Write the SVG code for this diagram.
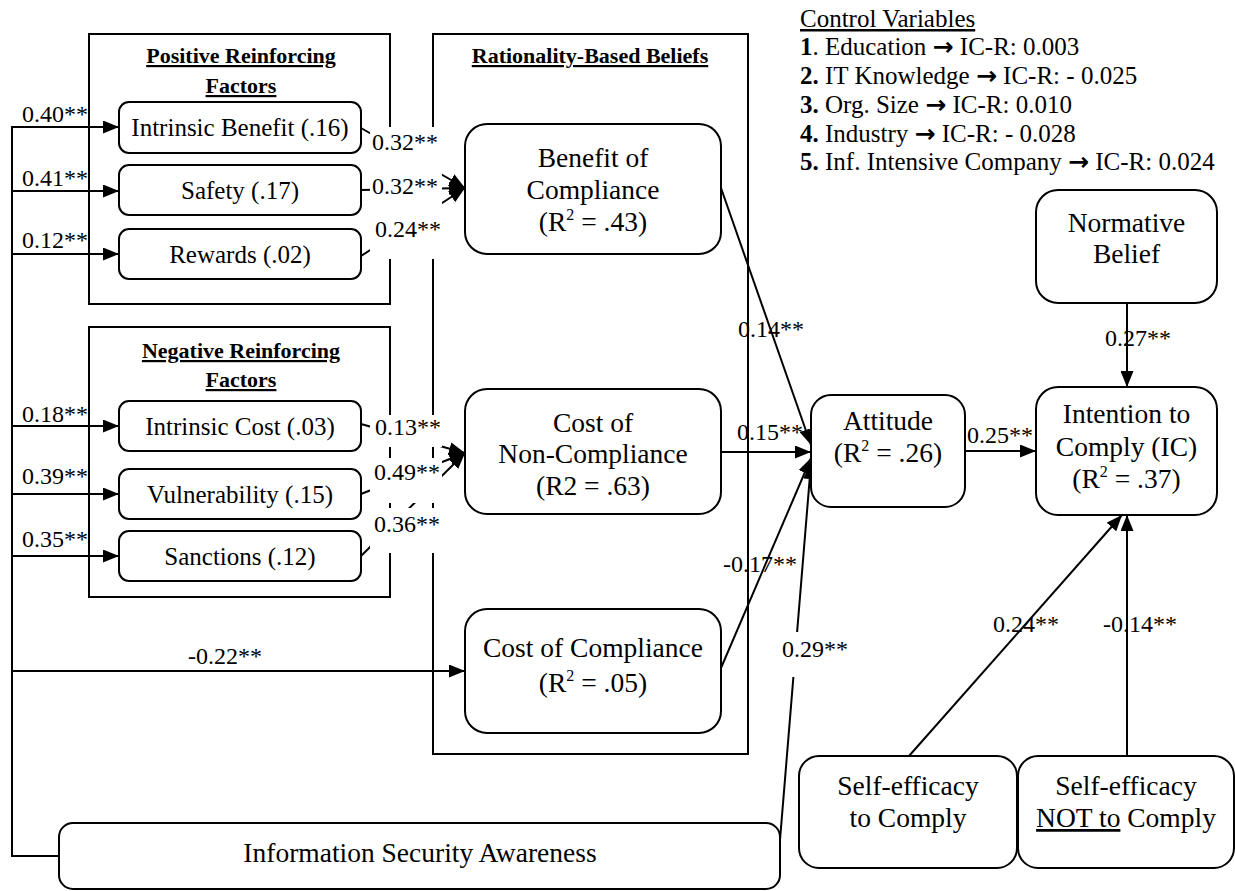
<svg xmlns="http://www.w3.org/2000/svg" width="1235" height="891" viewBox="0 0 1235 891" font-family="'Liberation Serif', serif">
<style>
  .box { fill: none; stroke: #000; stroke-width: 2; }
  .node { fill: #fff; stroke: #000; stroke-width: 2; }
  .title { font-weight: bold; font-size: 22px; text-decoration: underline; text-anchor: middle; }
  .f { font-size: 25px; text-anchor: middle; }
  .n { font-size: 27.5px; text-anchor: middle; }
  .lbl { font-size: 24px; }
  .cv { font-size: 25px; }
  .sup { font-size: 16px; }
  .arr { font-family: 'DejaVu Sans', sans-serif; font-weight: bold; font-size: 25px; }
  .c { fill: none; stroke: #000; stroke-width: 2; marker-end: url(#ah); }
  .bg { fill: #fff; stroke: none; }
</style>
<defs>
  <marker id="ah" markerUnits="userSpaceOnUse" markerWidth="16" markerHeight="13" refX="16" refY="6.5" orient="auto">
    <path d="M0,0 L16,6.5 L0,13 z" fill="#000"/>
  </marker>
</defs>
<rect width="1235" height="891" fill="#fff"/>

<!-- containers -->
<g id="positive-factors">
  <rect class="box" x="89" y="34" width="301" height="270"/>
  <text class="title" x="241" y="63">Positive Reinforcing</text>
  <text class="title" x="241" y="93">Factors</text>
</g>
<g id="negative-factors">
  <rect class="box" x="89" y="327" width="301" height="270"/>
  <text class="title" x="241" y="358">Negative Reinforcing</text>
  <text class="title" x="241" y="387">Factors</text>
</g>
<g id="rationality-beliefs">
  <rect class="box" x="433" y="34" width="315" height="720"/>
  <text class="title" x="590" y="63">Rationality-Based Beliefs</text>
</g>

<!-- control variables -->
<g id="control-variables" class="cv">
  <text x="800" y="27" text-decoration="underline">Control Variables</text>
  <text x="800" y="55"><tspan font-weight="bold">1</tspan>. Education <tspan class="arr">→</tspan> IC-R: 0.003</text>
  <text x="800" y="84"><tspan font-weight="bold">2.</tspan> IT Knowledge <tspan class="arr">→</tspan> IC-R: - 0.025</text>
  <text x="800" y="113"><tspan font-weight="bold">3.</tspan> Org. Size <tspan class="arr">→</tspan> IC-R: 0.010</text>
  <text x="800" y="142"><tspan font-weight="bold">4.</tspan> Industry <tspan class="arr">→</tspan> IC-R: - 0.028</text>
  <text x="800" y="170"><tspan font-weight="bold">5.</tspan> Inf. Intensive Company <tspan class="arr">→</tspan> IC-R: 0.024</text>
</g>

<!-- connectors -->
<g id="connectors">
  <path class="c" d="M59,856 L12,856 L12,127 L119,127"/>
  <path class="c" d="M12,191 L119,191"/>
  <path class="c" d="M12,254 L119,254"/>
  <path class="c" d="M12,426 L119,426"/>
  <path class="c" d="M12,494 L119,494"/>
  <path class="c" d="M12,556 L119,556"/>
  <path class="c" d="M12,671 L465,671"/>
  <path class="c" d="M361,128 L465,188"/>
  <path class="c" d="M361,190 L465,188"/>
  <path class="c" d="M361,256 L465,188"/>
  <path class="c" d="M361,424 L465,453"/>
  <path class="c" d="M361,494 L465,453"/>
  <path class="c" d="M361,556 L465,453"/>
  <path class="c" d="M721,188 L811,445"/>
  <path class="c" d="M721,452 L811,452"/>
  <path class="c" d="M721,668 L811,458"/>
  <path class="c" d="M780,840 L811,463"/>
  <path class="c" d="M965,451 L1036,451"/>
  <path class="c" d="M1127,303 L1127,387"/>
  <path class="c" d="M909,756 L1122,515"/>
  <path class="c" d="M1127,756 L1127,515"/>
</g>

<!-- connector labels -->
<g id="connector-labels" class="lbl">
  <rect class="bg" x="370" y="127" width="72" height="132"/>
  <rect class="bg" x="370" y="415" width="72" height="32"/>
  <rect class="bg" x="370" y="458" width="72" height="45"/>
  <rect class="bg" x="370" y="508" width="72" height="45"/>
  <rect class="bg" x="781" y="632" width="68" height="45"/>
  <text x="22" y="122">0.40**</text>
  <text x="22" y="186">0.41**</text>
  <text x="22" y="248">0.12**</text>
  <text x="22" y="422">0.18**</text>
  <text x="22" y="484">0.39**</text>
  <text x="22" y="547">0.35**</text>
  <text x="225" y="664" text-anchor="middle">-0.22**</text>
  <text x="372" y="150">0.32**</text>
  <text x="372" y="194">0.32**</text>
  <text x="375" y="237">0.24**</text>
  <text x="375" y="435">0.13**</text>
  <text x="374" y="480">0.49**</text>
  <text x="374" y="532">0.36**</text>
  <text x="738" y="337">0.14**</text>
  <text x="737" y="440">0.15**</text>
  <text x="723" y="572">-0.17**</text>
  <text x="782" y="657">0.29**</text>
  <text x="967" y="443">0.25**</text>
  <text x="1105" y="346">0.27**</text>
  <text x="993" y="632">0.24**</text>
  <text x="1103" y="632">-0.14**</text>
</g>

<!-- factor nodes -->
<g id="intrinsic-benefit">
  <rect class="node" x="119" y="102" width="242" height="51" rx="10"/>
  <text class="f" x="240" y="136">Intrinsic Benefit (.16)</text>
</g>
<g id="safety">
  <rect class="node" x="119" y="165" width="242" height="50" rx="10"/>
  <text class="f" x="240" y="198.5">Safety (.17)</text>
</g>
<g id="rewards">
  <rect class="node" x="119" y="229" width="242" height="50" rx="10"/>
  <text class="f" x="240" y="262.5">Rewards (.02)</text>
</g>
<g id="intrinsic-cost">
  <rect class="node" x="119" y="401" width="242" height="50" rx="10"/>
  <text class="f" x="240" y="434.5">Intrinsic Cost (.03)</text>
</g>
<g id="vulnerability">
  <rect class="node" x="119" y="469" width="242" height="50" rx="10"/>
  <text class="f" x="240" y="502.5">Vulnerability (.15)</text>
</g>
<g id="sanctions">
  <rect class="node" x="119" y="531" width="242" height="50" rx="10"/>
  <text class="f" x="240" y="564.5">Sanctions (.12)</text>
</g>

<!-- belief nodes -->
<g id="benefit-of-compliance">
  <rect class="node" x="465" y="124" width="256" height="130" rx="22"/>
  <text class="n" x="593" y="167">Benefit of</text>
  <text class="n" x="593" y="199">Compliance</text>
  <text class="n" x="593" y="231">(R<tspan class="sup" dy="-11">2</tspan><tspan dy="11"> = .43)</tspan></text>
</g>
<g id="cost-of-non-compliance">
  <rect class="node" x="465" y="389" width="256" height="125" rx="22"/>
  <text class="n" x="593" y="432">Cost of</text>
  <text class="n" x="593" y="463">Non-Compliance</text>
  <text class="n" x="593" y="495">(R2 = .63)</text>
</g>
<g id="cost-of-compliance">
  <rect class="node" x="465" y="609" width="256" height="124" rx="22"/>
  <text class="n" x="593" y="657">Cost of Compliance</text>
  <text class="n" x="593" y="692">(R<tspan class="sup" dy="-11">2</tspan><tspan dy="11"> = .05)</tspan></text>
</g>

<!-- outcome nodes -->
<g id="attitude">
  <rect class="node" x="811" y="395" width="154" height="112" rx="20"/>
  <text class="n" x="888" y="430">Attitude</text>
  <text class="n" x="888" y="462">(R<tspan class="sup" dy="-11">2</tspan><tspan dy="11"> = .26)</tspan></text>
</g>
<g id="intention-to-comply">
  <rect class="node" x="1036" y="387" width="181" height="128" rx="22"/>
  <text class="n" x="1126.5" y="423">Intention to</text>
  <text class="n" x="1126.5" y="456">Comply (IC)</text>
  <text class="n" x="1126.5" y="488">(R<tspan class="sup" dy="-11">2</tspan><tspan dy="11"> = .37)</tspan></text>
</g>
<g id="normative-belief">
  <rect class="node" x="1036" y="190" width="181" height="113" rx="22"/>
  <text class="n" x="1126.5" y="232">Normative</text>
  <text class="n" x="1126.5" y="263">Belief</text>
</g>
<g id="self-efficacy-comply">
  <rect class="node" x="799" y="756" width="218" height="112" rx="20"/>
  <text class="n" x="908" y="795">Self-efficacy</text>
  <text class="n" x="908" y="827">to Comply</text>
</g>
<g id="self-efficacy-not-comply">
  <rect class="node" x="1018" y="756" width="216" height="112" rx="20"/>
  <text class="n" x="1126" y="795">Self-efficacy</text>
  <text class="n" x="1126" y="827"><tspan text-decoration="underline">NOT to</tspan> Comply</text>
</g>
<g id="information-security-awareness">
  <rect class="node" x="59" y="823" width="721" height="66" rx="14"/>
  <text class="n" x="420" y="862">Information Security Awareness</text>
</g>
</svg>
